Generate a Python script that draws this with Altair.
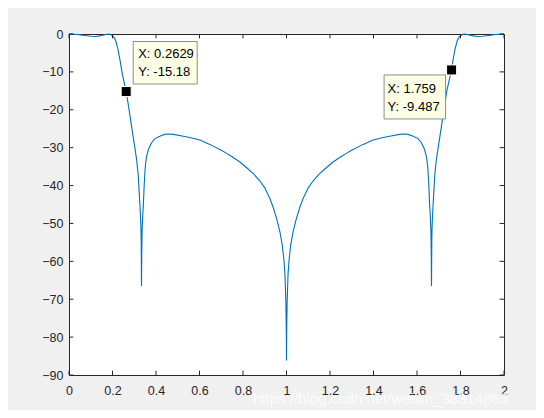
import altair as alt
import pandas as pd

# ---- curve values ----
x_left = [0.000, 0.020, 0.040, 0.060, 0.080, 0.100, 0.120, 0.140, 0.160, 0.175,
          0.185, 0.195, 0.205, 0.215, 0.225, 0.2345, 0.245, 0.2629, 0.275, 0.288,
          0.300, 0.311, 0.318, 0.322, 0.326, 0.329, 0.331, 0.332, 0.3333, 0.3345,
          0.336, 0.339, 0.342, 0.346, 0.350, 0.356, 0.365, 0.380, 0.395, 0.420,
          0.441, 0.460, 0.480, 0.520, 0.560, 0.602, 0.650, 0.700, 0.725, 0.750,
          0.786, 0.817, 0.850, 0.878, 0.900, 0.924, 0.939, 0.955, 0.970, 0.980,
          0.988, 0.993, 0.997, 0.999, 1.000]
y_left = [0.00, -0.05, -0.15, -0.30, -0.45, -0.60, -0.65, -0.50, -0.25, -0.05,
          0.00, -0.25, -0.70, -1.80, -4.00, -6.90, -10.50, -15.18, -19.50, -24.50,
          -29.00, -33.20, -37.00, -41.00, -45.00, -48.50, -51.50, -55.00, -66.50, -58.00,
          -52.00, -48.00, -45.00, -39.50, -35.50, -32.50, -30.50, -28.70, -27.60, -26.90,
          -26.50, -26.40, -26.50, -26.90, -27.40, -28.00, -29.20, -30.70, -31.50, -32.40,
          -33.80, -35.30, -37.00, -38.80, -40.60, -43.50, -45.80, -48.80, -52.30, -55.50,
          -59.50, -63.50, -70.50, -78.00, -86.20]

x_right = [1.001, 1.003, 1.007, 1.012, 1.020, 1.030, 1.045, 1.061, 1.076, 1.100,
           1.122, 1.150, 1.183, 1.214, 1.250, 1.275, 1.300, 1.350, 1.398, 1.440,
           1.480, 1.520, 1.540, 1.559, 1.580, 1.605, 1.620, 1.635, 1.644, 1.650,
           1.654, 1.658, 1.661, 1.664, 1.6655, 1.6667, 1.668, 1.669, 1.671, 1.674,
           1.678, 1.682, 1.689, 1.700, 1.712, 1.725, 1.737, 1.759, 1.7655, 1.775,
           1.785, 1.795, 1.805, 1.815, 1.825, 1.840, 1.860, 1.880, 1.900, 1.920,
           1.940, 1.960, 1.980, 2.000]
y_right = [-78.00, -70.50, -63.50, -59.50, -55.50, -52.30, -48.80, -45.80, -43.50, -40.60,
           -38.80, -37.00, -35.30, -33.80, -32.40, -31.50, -30.70, -29.20, -28.00, -27.40,
           -26.90, -26.50, -26.40, -26.50, -26.90, -27.60, -28.70, -30.50, -32.50, -35.50,
           -39.50, -45.00, -48.00, -52.00, -58.00, -66.50, -55.00, -51.50, -48.50, -45.00,
           -41.00, -37.00, -33.20, -29.00, -24.50, -19.50, -15.00, -9.487, -6.90, -4.00,
           -1.80, -0.70, -0.25, 0.00, -0.05, -0.25, -0.50, -0.65, -0.60, -0.45,
           -0.30, -0.15, -0.05, 0.00]

# ---- data tips ----
tip_x = [0.2629, 1.759]
tip_y = [-15.18, -9.487]
tip_xlabel = ["X: 0.2629", "X: 1.759"]
tip_ylabel = ["Y: -15.18", "Y: -9.487"]

# ---- ticks ----
x_ticks = [0, 0.2, 0.4, 0.6, 0.8, 1.0, 1.2, 1.4, 1.6, 1.8, 2.0]
y_ticks = [0, -10, -20, -30, -40, -50, -60, -70, -80, -90]

watermark = "https://blog.csdn.net/weixin_38314865"

W, H = 435, 341
AX = "#262626"
FONT = "Liberation Sans"

curve = pd.DataFrame({"x": x_left + x_right, "y": y_left + y_right})
tips = pd.DataFrame({"x": tip_x, "y": tip_y, "lx": tip_xlabel, "ly": tip_ylabel})
xt = pd.DataFrame({"x": x_ticks})
yt = pd.DataFrame({"y": y_ticks})

xs = alt.Scale(domain=[0, 2], nice=False, zero=False)
ys = alt.Scale(domain=[-90, 0], nice=False, zero=False)

axx = alt.Axis(values=x_ticks, format=".1~f", grid=False, domain=False,
               ticks=False, labelPadding=9, labelFontSize=12.5,
               labelColor=AX, labelFont=FONT, labelFlush=False,
               labelOverlap=False)
axy = alt.Axis(values=y_ticks, format="d", grid=False, domain=False,
               ticks=False, labelPadding=6, labelFontSize=12.5,
               labelColor=AX, labelFont=FONT, labelFlush=False,
               labelOverlap=False)

def X(f):
    return alt.X(f, scale=xs, axis=axx, title=None)

def Y(f):
    return alt.Y(f, scale=ys, axis=axy, title=None)

line = alt.Chart(curve).mark_line(color="#0072BD", strokeWidth=1.1).encode(
    x=X("x:Q"), y=Y("y:Q"))

tl = 4.4
xb = alt.Chart(xt).mark_rule(color=AX, strokeWidth=1).encode(
    x=X("x:Q"), y=alt.value(H), y2=alt.value(H - tl))
xtp = alt.Chart(xt).mark_rule(color=AX, strokeWidth=1).encode(
    x=X("x:Q"), y=alt.value(0), y2=alt.value(tl))
yl = alt.Chart(yt).mark_rule(color=AX, strokeWidth=1).encode(
    y=Y("y:Q"), x=alt.value(0), x2=alt.value(tl))
yr = alt.Chart(yt).mark_rule(color=AX, strokeWidth=1).encode(
    y=Y("y:Q"), x=alt.value(W), x2=alt.value(W - tl))

t1 = tips.iloc[[0]]
t2 = tips.iloc[[1]]

def box(df, x0, x1, y0, y1):
    return alt.Chart(df).mark_rect(fill="#FFFFE6", stroke="#8C8C8C", strokeWidth=1,
                                   xOffset=x0, x2Offset=x1, yOffset=y0, y2Offset=y1).encode(
        x=X("x:Q"), x2="x", y=Y("y:Q"), y2="y")

def txt(df, field, dx, dy):
    return alt.Chart(df).mark_text(align="left", baseline="middle", dx=dx, dy=dy,
                                   font=FONT, fontSize=13, color="#000000").encode(
        x=X("x:Q"), y=Y("y:Q"), text=field + ":N")

box1 = box(t1, 7, 71, -50, -7.5)
box2 = box(t2, -67.5, -6, 5, 49)
tx1a = txt(t1, "lx", 12, -38)
tx1b = txt(t1, "ly", 12, -19.5)
tx2a = txt(t2, "lx", -64, 19)
tx2b = txt(t2, "ly", -64, 37)

marks = alt.Chart(tips).mark_square(size=100, color="#000000", stroke="#FFFFE6",
                                    strokeWidth=1, opacity=1).encode(
    x=X("x:Q"), y=Y("y:Q"))

wm = alt.Chart(pd.DataFrame({"t": [watermark]})).mark_text(
    align="left", baseline="alphabetic", font=FONT, fontSize=15,
    color="#ffffff", opacity=0.85).encode(
    x=alt.value(184), y=alt.value(370), text="t:N")

chart = alt.layer(line, xb, xtp, yl, yr, box1, box2, tx1a, tx1b, tx2a, tx2b, marks, wm).properties(
    width=W, height=H,
    background="#F0F0F0",
    padding={"left": 61, "top": 26, "right": 32, "bottom": 35},
    autosize=alt.AutoSizeParams(type="none"),
).configure_view(stroke=AX, strokeWidth=1, fill="#FFFFFF")

chart.save("out.html", embed_options={"renderer": "svg", "actions": False})
